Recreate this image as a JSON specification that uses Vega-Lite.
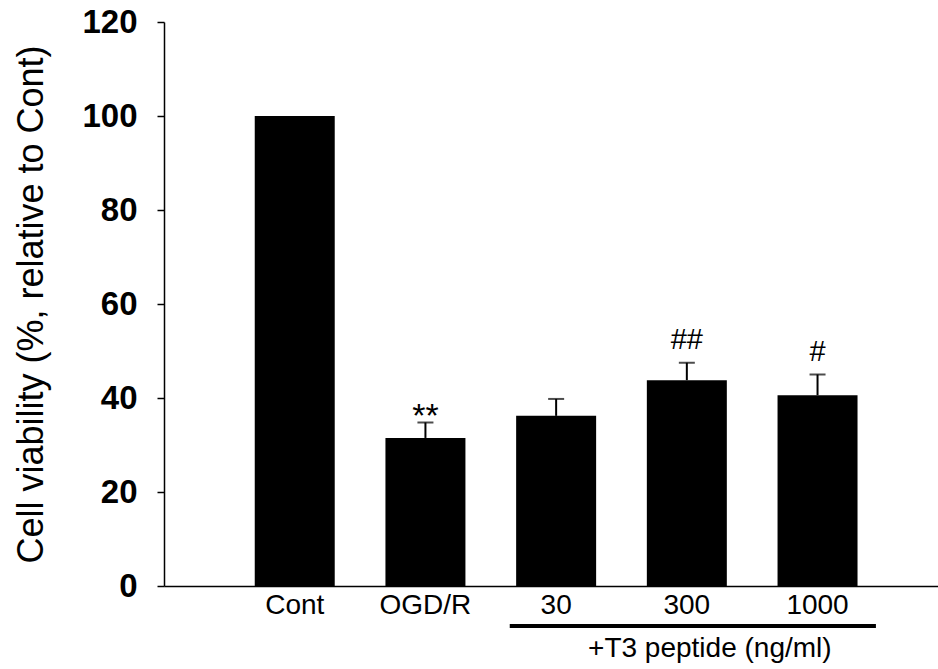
{
  "$schema": "https://vega.github.io/schema/vega-lite/v6.json",
  "width": 774,
  "height": 564,
  "autosize": {"type": "none"},
  "padding": {"left": 164, "top": 22, "right": 0, "bottom": 83},
  "background": "white",
  "config": {
    "view": {"stroke": null},
    "font": "Liberation Sans",
    "axis": {"grid": false, "domainColor": "black", "tickColor": "black", "labelColor": "black", "titleColor": "black", "labelFont": "Liberation Sans", "titleFont": "Liberation Sans"}
  },
  "datasets": {
    "bars": [
      {"group": "Cont", "value": 100, "upper": null, "sig": ""},
      {"group": "OGD/R", "value": 31.5, "upper": 34.8, "sig": "**"},
      {"group": "30", "value": 36.2, "upper": 39.8, "sig": ""},
      {"group": "300", "value": 43.8, "upper": 47.5, "sig": "##"},
      {"group": "1000", "value": 40.6, "upper": 45.0, "sig": "#"}
    ],
    "bracket": [
      {"from": "30", "to": "1000", "label": "+T3 peptide (ng/ml)", "mid": "300", "ypos": -8.5, "ytext": -15.1}
    ]
  },
  "data": {"name": "bars"},
  "encoding": {
    "x": {
      "field": "group",
      "type": "nominal",
      "scale": {"domain": ["Cont", "OGD/R", "30", "300", "1000"], "paddingInner": 0.388, "paddingOuter": 0.655, "align": 0.53},
      "axis": {"title": null, "labelAngle": 0, "ticks": false, "labelFontSize": 28, "labelPadding": 5, "domainWidth": 1.5, "labelFontWeight": "normal"}
    }
  },
  "layer": [
    {
      "mark": {"type": "bar", "color": "black"},
      "encoding": {
        "y": {
          "field": "value",
          "type": "quantitative",
          "scale": {"domain": [0, 120], "nice": false},
          "axis": {"values": [0, 20, 40, 60, 80, 100, 120], "title": "Cell viability (%, relative to Cont)", "titleFontSize": 36, "titleFontWeight": "normal", "titlePadding": 31, "labelFontSize": 33, "labelFontWeight": "bold", "labelPadding": 20, "tickSize": 7, "tickWidth": 1.5, "domainWidth": 1.5}
        }
      }
    },
    {
      "transform": [{"filter": "datum.upper != null"}],
      "mark": {"type": "rule", "color": "black", "strokeWidth": 2},
      "encoding": {"y": {"field": "value", "type": "quantitative"}, "y2": {"field": "upper"}}
    },
    {
      "transform": [{"filter": "datum.upper != null"}],
      "mark": {"type": "tick", "color": "black", "thickness": 2, "size": 16},
      "encoding": {"y": {"field": "upper", "type": "quantitative"}}
    },
    {
      "transform": [{"filter": "datum.sig == '**'"}],
      "mark": {"type": "text", "fontSize": 34, "baseline": "alphabetic", "dy": 5, "color": "black"},
      "encoding": {"y": {"field": "upper", "type": "quantitative"}, "text": {"field": "sig"}}
    },
    {
      "transform": [{"filter": "indexof(datum.sig, '#') >= 0"}],
      "mark": {"type": "text", "fontSize": 29, "baseline": "alphabetic", "dy": -14, "color": "black"},
      "encoding": {"y": {"field": "upper", "type": "quantitative"}, "text": {"field": "sig"}}
    },
    {
      "data": {"name": "bracket"},
      "mark": {"type": "rule", "color": "black", "strokeWidth": 4},
      "encoding": {
        "x": {"field": "from", "type": "nominal", "bandPosition": -0.08},
        "x2": {"field": "to", "bandPosition": 1.23},
        "y": {"field": "ypos", "type": "quantitative"}
      }
    },
    {
      "data": {"name": "bracket"},
      "mark": {"type": "text", "fontSize": 28, "baseline": "alphabetic", "dx": 23, "color": "black"},
      "encoding": {
        "x": {"field": "mid", "type": "nominal"},
        "y": {"field": "ytext", "type": "quantitative"},
        "text": {"field": "label"}
      }
    }
  ]
}
